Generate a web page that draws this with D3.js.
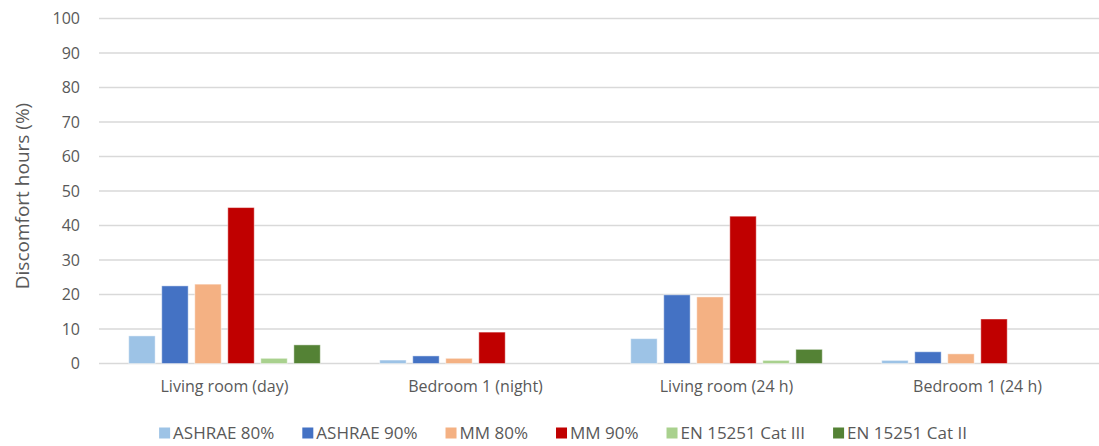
<!DOCTYPE html>
<html>
<head>
<meta charset="utf-8">
<script src="https://cdn.jsdelivr.net/npm/d3@7"></script>
<style>
  html, body { margin: 0; padding: 0; background: #fff; }
  svg { display: block; font-family: "Open Sans", sans-serif; }
</style>
</head>
<body>
<svg id="chart" width="1099" height="446"></svg>
<script>
// Room / period categories
const categories = ["Living room (day)", "Bedroom 1 (night)", "Living room (24 h)", "Bedroom 1 (24 h)"];

// Comfort criteria (one bar per criterion in each category)
const seriesNames = ["ASHRAE 80%", "ASHRAE 90%", "MM 80%", "MM 90%", "EN 15251 Cat III", "EN 15251 Cat II"];
const seriesColors = ["#9DC3E6", "#4472C4", "#F4B183", "#C00000", "#A9D18E", "#548235"];

// Discomfort hours (%) per criterion, listed in category order
const ashrae80 = [8.0, 1.0, 7.2, 0.9];
const ashrae90 = [22.5, 2.2, 19.9, 3.4];
const mm80     = [23.0, 1.5, 19.3, 2.8];
const mm90     = [45.2, 9.1, 42.7, 12.9];
const enCat3   = [1.5, 0.0, 0.9, 0.0];
const enCat2   = [5.4, 0.0, 4.1, 0.0];

const yTicks = [0, 10, 20, 30, 40, 50, 60, 70, 80, 90, 100];
const yTitle = "Discomfort hours (%)";

const seriesValues = [ashrae80, ashrae90, mm80, mm90, enCat3, enCat2];

const svg = d3.select("#chart");
const plot = { left: 99, right: 1103, top: 18.5, bottom: 363.5 };
const textColor = "#595959";

const x0 = d3.scaleBand().domain(categories).range([plot.left, plot.right]).padding(0);
const x1 = d3.scaleBand().domain(seriesNames).range([0, x0.bandwidth()])
  .paddingInner(0.2).paddingOuter(0.9);
const y = d3.scaleLinear().domain([0, 100]).range([plot.bottom, plot.top]);

// Horizontal gridlines
svg.append("g")
  .selectAll("line")
  .data(yTicks)
  .join("line")
  .attr("x1", plot.left).attr("x2", plot.right)
  .attr("y1", d => y(d)).attr("y2", d => y(d))
  .attr("stroke", "#d9d9d9").attr("stroke-width", 1.5);

// Value axis labels
const yAxis = svg.append("g")
  .attr("transform", `translate(${plot.left - 19},0)`)
  .call(d3.axisLeft(y).tickValues(yTicks).tickSize(0).tickPadding(0).tickFormat(d3.format("d")));
yAxis.select(".domain").remove();
yAxis.selectAll("text")
  .attr("fill", textColor).attr("font-size", 16).attr("font-family", "'Open Sans', sans-serif");

// Axis title
svg.append("text")
  .attr("transform", `translate(22,${(plot.top + plot.bottom) / 2 + 5}) rotate(-90)`)
  .attr("text-anchor", "middle")
  .attr("dy", "0.35em")
  .attr("fill", textColor).attr("font-size", 19)
  .text(yTitle);

// Bars
const groups = svg.append("g")
  .selectAll("g")
  .data(categories)
  .join("g")
  .attr("transform", d => `translate(${x0(d)},0)`);

groups.selectAll("rect")
  .data((c, ci) => seriesNames.map((s, si) => ({ s, si, v: seriesValues[si][ci] })))
  .join("rect")
  .filter(d => d.v > 0)
  .attr("x", d => x1(d.s))
  .attr("width", x1.bandwidth())
  .attr("y", d => y(d.v))
  .attr("height", d => y(0) - y(d.v))
  .attr("fill", d => seriesColors[d.si])
  .attr("stroke", "#ffffff").attr("stroke-opacity", 0.45).attr("stroke-width", 1);

// Category axis labels
const xAxis = svg.append("g")
  .attr("transform", `translate(0,${plot.bottom})`)
  .call(d3.axisBottom(x0).tickSize(0).tickPadding(17));
xAxis.select(".domain").remove();
xAxis.selectAll("text")
  .attr("fill", textColor).attr("font-size", 16).attr("font-family", "'Open Sans', sans-serif");

// Legend, laid out left to right from measured text widths
const legendGap = 28;
const legend = svg.append("g");
const items = legend.selectAll("g")
  .data(seriesNames)
  .join("g");
items.append("rect")
  .attr("width", 11).attr("height", 11).attr("y", -5.5)
  .attr("fill", (d, i) => seriesColors[i]);
items.append("text")
  .attr("x", 14).attr("dy", "0.36em")
  .attr("fill", textColor).attr("font-size", 17)
  .text(d => d);

let cursor = 0;
items.each(function () {
  const w = this.getBBox().width;
  d3.select(this).attr("transform", `translate(${cursor},0)`);
  cursor += w + legendGap;
});
const legendWidth = cursor - legendGap;
legend.attr("transform", `translate(${563 - legendWidth / 2},433)`);
</script>
</body>
</html>
